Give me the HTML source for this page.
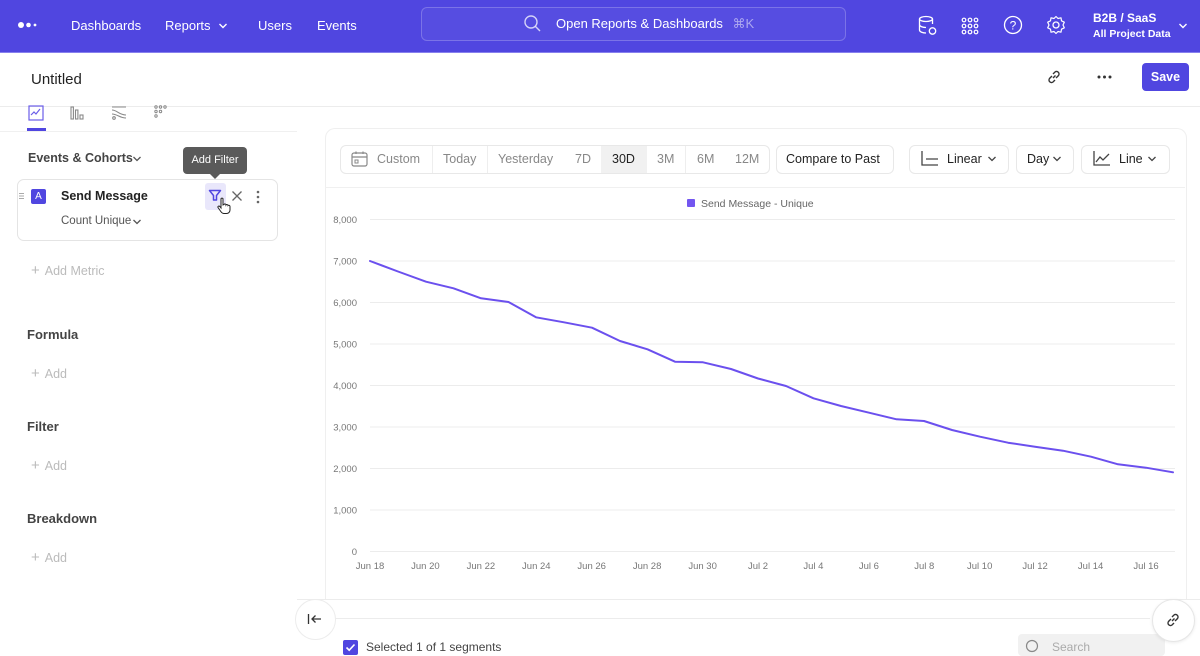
<!DOCTYPE html>
<html>
<head>
<meta charset="utf-8">
<style>
  html,body{margin:0;padding:0;}
  body{width:1200px;height:651px;overflow:hidden;position:relative;background:#fff;font-family:"Liberation Sans",Arial,sans-serif;color:#222;}
  .a{position:absolute;white-space:nowrap;}
  .nav{position:absolute;left:0;top:0;width:1200px;height:52px;background:#5046e0;border-bottom:1px solid #8780ee;}
  .nav .t{position:absolute;color:#fff;font-size:13px;top:18px;}
  .search{position:absolute;left:421px;top:7px;width:423px;height:32px;border:1px solid rgba(255,255,255,0.22);border-radius:6px;background:rgba(255,255,255,0.04);}
  .sec{color:#444;font-size:13px;font-weight:bold;}
  .add{color:#bbb;font-size:12.5px;}
  .tb{position:absolute;top:145px;height:27px;border:1px solid #e8e8e8;border-radius:6px;background:#fff;}
  .tbt{position:absolute;top:152px;font-size:12.5px;color:#888;}
</style>
</head>
<body>

<!-- top nav -->
<div class="nav">
  <svg class="a" style="left:17px;top:21px" width="22" height="8"><circle cx="4" cy="4" r="3" fill="#fff"/><circle cx="11.5" cy="4" r="2.3" fill="#fff"/><circle cx="18" cy="4" r="1.4" fill="#fff"/></svg>
  <div class="t" style="left:71px">Dashboards</div>
  <div class="t" style="left:165px">Reports</div>
  <svg class="a" style="left:218px;top:22px" width="10" height="8"><path d="M1.5 2 L5 5.5 L8.5 2" stroke="#fff" stroke-width="1.4" fill="none"/></svg>
  <div class="t" style="left:258px">Users</div>
  <div class="t" style="left:317px">Events</div>
  <div class="search"></div>
  <svg class="a" style="left:523px;top:14px" width="20" height="20"><circle cx="8" cy="8" r="6" stroke="rgba(255,255,255,0.75)" stroke-width="1.4" fill="none"/><path d="M12.5 12.5 L17 17" stroke="rgba(255,255,255,0.75)" stroke-width="1.4"/></svg>
  <div class="t" style="left:556px;top:16px">Open Reports &amp; Dashboards <span style="color:rgba(255,255,255,0.5);margin-left:6px">⌘K</span></div>
  <svg class="a" style="left:918px;top:15px" width="20" height="22"><ellipse cx="8" cy="4" rx="6.5" ry="2.5" stroke="#fff" stroke-width="1.3" fill="none"/><path d="M1.5 4 V15 C1.5 17 5 18 8 18 M14.5 4 V9 M1.5 9.5 C1.5 11.5 5 12.5 8 12.5" stroke="#fff" stroke-width="1.3" fill="none"/><circle cx="14.5" cy="16" r="3.2" stroke="#fff" stroke-width="1.3" fill="none"/></svg>
  <svg class="a" style="left:961px;top:17px" width="18" height="18"><g fill="none" stroke="#fff" stroke-width="1.2"><circle cx="3" cy="3" r="1.8"/><circle cx="9" cy="3" r="1.8"/><circle cx="15" cy="3" r="1.8"/><circle cx="3" cy="9" r="1.8"/><circle cx="9" cy="9" r="1.8"/><circle cx="15" cy="9" r="1.8"/><circle cx="3" cy="15" r="1.8"/><circle cx="9" cy="15" r="1.8"/><circle cx="15" cy="15" r="1.8"/></g></svg>
  <svg class="a" style="left:1003px;top:15px" width="20" height="20"><circle cx="10" cy="10" r="8.5" stroke="#fff" stroke-width="1.3" fill="none"/><text x="10" y="14.5" text-anchor="middle" font-size="12" fill="#fff" font-family="Liberation Sans">?</text></svg>
  <svg class="a" style="left:1046px;top:15px" width="20" height="20"><circle cx="10" cy="10" r="3" stroke="#fff" stroke-width="1.3" fill="none"/><path d="M10 1.5 L12 3.5 L15 2.8 L15.5 5.8 L18.3 7.2 L17 10 L18.3 12.8 L15.5 14.2 L15 17.2 L12 16.5 L10 18.5 L8 16.5 L5 17.2 L4.5 14.2 L1.7 12.8 L3 10 L1.7 7.2 L4.5 5.8 L5 2.8 L8 3.5 Z" stroke="#fff" stroke-width="1.2" fill="none" stroke-linejoin="round"/></svg>
  <div class="a" style="left:1093px;top:11px;color:#fff;font-size:12px;font-weight:bold">B2B / SaaS</div>
  <div class="a" style="left:1093px;top:28px;color:#fff;font-size:10.5px;font-weight:bold">All Project Data</div>
  <svg class="a" style="left:1178px;top:22px" width="10" height="8"><path d="M1.5 2 L5 5.5 L8.5 2" stroke="#fff" stroke-width="1.4" fill="none"/></svg>
</div>

<!-- title row -->
<div class="a" style="left:31px;top:71px;font-size:15px;color:#222">Untitled</div>
<svg class="a" style="left:1046px;top:69px" width="16" height="16"><g stroke="#333" stroke-width="1.4" fill="none"><path d="M7 9 L9.5 6.5"/><path d="M6 7 L3.5 9.5 A2.5 2.5 0 0 0 7 13 L9 11"/><path d="M10 9 L12.5 6.5 A2.5 2.5 0 0 0 9 3 L7 5"/></g></svg>
<svg class="a" style="left:1097px;top:75px" width="16" height="4"><circle cx="2" cy="2" r="1.5" fill="#333"/><circle cx="7.5" cy="2" r="1.5" fill="#333"/><circle cx="13" cy="2" r="1.5" fill="#333"/></svg>
<div class="a" style="left:1142px;top:63px;width:47px;height:28px;background:#5046e0;border-radius:4px;color:#fff;font-size:12.5px;font-weight:bold;text-align:center;line-height:28px">Save</div>
<div class="a" style="left:0;top:106px;width:1200px;height:1px;background:#ececec"></div>

<!-- tab icons -->
<svg class="a" style="left:28px;top:105px" width="16" height="16"><rect x="1" y="1" width="14" height="14" fill="none" stroke="#6b5ee8" stroke-width="1.2"/><path d="M3 10 L6 7 L8 9 L12 4" stroke="#6b5ee8" stroke-width="1.2" fill="none"/></svg>
<div class="a" style="left:27px;top:128px;width:19px;height:3px;background:#5046e0"></div>
<svg class="a" style="left:70px;top:106px" width="16" height="14"><g fill="none" stroke="#888" stroke-width="1.1"><rect x="1" y="1" width="2.4" height="12"/><rect x="5.5" y="4" width="2.4" height="9"/><rect x="10" y="9" width="3" height="4"/></g></svg>
<svg class="a" style="left:111px;top:106px" width="16" height="14"><g fill="none" stroke="#888" stroke-width="1.1"><path d="M1 1 H15 M1 4 C6 4 8 9 15 9 M1 8 C6 8 9 12 15 12"/><circle cx="3" cy="12" r="1.3"/></g></svg>
<svg class="a" style="left:153px;top:105px" width="16" height="14"><g fill="none" stroke="#888" stroke-width="1"><circle cx="3" cy="2" r="1.2"/><circle cx="7.5" cy="2" r="1.2"/><circle cx="12" cy="2" r="1.2"/><circle cx="3" cy="6.5" r="1.2"/><circle cx="7.5" cy="6.5" r="1.2"/><circle cx="3" cy="11" r="1.2"/></g></svg>
<div class="a" style="left:0;top:131px;width:297px;height:1px;background:#f0f0f0"></div>

<!-- left panel -->
<div class="a" style="left:28px;top:151px;font-size:12.5px;color:#444;font-weight:bold">Events &amp; Cohorts</div>
<svg class="a" style="left:132px;top:155px" width="10" height="8"><path d="M1.5 2 L5 5.5 L8.5 2" stroke="#555" stroke-width="1.3" fill="none"/></svg>

<div class="a" style="left:17px;top:179px;width:259px;height:60px;border:1px solid #e4e4e4;border-radius:7px"></div>
<div class="a" style="left:19px;top:193px;width:5px;height:1px;background:#aaa;box-shadow:0 2.5px 0 #aaa,0 5px 0 #aaa"></div>
<div class="a" style="left:31px;top:189px;width:15px;height:15px;background:#5046e0;border-radius:2px;color:#fff;font-size:10px;text-align:center;line-height:15px">A</div>
<div class="a" style="left:61px;top:189px;font-size:12.5px;color:#222;font-weight:bold">Send Message</div>
<div class="a" style="left:61px;top:215px;font-size:11.5px;color:#555">Count Unique</div>
<svg class="a" style="left:132px;top:218px" width="10" height="8"><path d="M1.5 2 L5 5.5 L8.5 2" stroke="#555" stroke-width="1.3" fill="none"/></svg>
<div class="a" style="left:205px;top:183px;width:21px;height:27px;background:#e9e7fb;border-radius:3px"></div>
<svg class="a" style="left:208px;top:189px" width="14" height="13"><path d="M1.5 1.5 H12.5 L8.5 6.5 V11 L5.5 11 V6.5 Z" fill="none" stroke="#5046e0" stroke-width="1.5" stroke-linejoin="round"/></svg>
<svg class="a" style="left:217px;top:197px" width="14" height="18"><path d="M4 2 C4 0.8 6 0.8 6 2 V8 L7 7.5 C7.5 6.5 9 6.8 9 8 C9.5 7.2 11 7.5 11 8.5 C11.5 8 13 8.3 13 9.5 V13 C13 15 11.5 16.5 9.5 16.5 H7 C5.5 16.5 4.5 15.5 3.8 14.5 L1 10.5 C0.5 9.5 1.8 8.5 2.8 9.5 L4 11 Z" fill="#fff" stroke="#222" stroke-width="1"/></svg>
<svg class="a" style="left:231px;top:190px" width="12" height="12"><path d="M1.5 1.5 L10.5 10.5 M10.5 1.5 L1.5 10.5" stroke="#666" stroke-width="1.3"/></svg>
<svg class="a" style="left:256px;top:190px" width="4" height="14"><circle cx="2" cy="2" r="1.3" fill="#666"/><circle cx="2" cy="7" r="1.3" fill="#666"/><circle cx="2" cy="12" r="1.3" fill="#666"/></svg>
<div class="a" style="left:183px;top:147px;width:64px;height:27px;background:#5a5a5a;border-radius:4px;color:#fff;font-size:11px;text-align:center;line-height:27px">Add Filter</div>
<div class="a" style="left:210px;top:174px;width:0;height:0;border-left:5px solid transparent;border-right:5px solid transparent;border-top:5px solid #5a5a5a"></div>

<div class="a add" style="left:31px;top:262px"><span style="font-size:15px;margin-right:5px">+</span>Add Metric</div>
<div class="a sec" style="left:27px;top:327px">Formula</div>
<div class="a add" style="left:31px;top:365px"><span style="font-size:15px;margin-right:5px">+</span>Add</div>
<div class="a sec" style="left:27px;top:419px">Filter</div>
<div class="a add" style="left:31px;top:457px"><span style="font-size:15px;margin-right:5px">+</span>Add</div>
<div class="a sec" style="left:27px;top:511px">Breakdown</div>
<div class="a add" style="left:31px;top:549px"><span style="font-size:15px;margin-right:5px">+</span>Add</div>

<!-- chart card -->
<div class="a" style="left:325px;top:128px;width:860px;height:471px;border:1px solid #efefef;border-bottom:none;border-radius:10px 10px 0 0"></div>
<div class="a" style="left:325px;top:187px;width:860px;height:1px;background:#f0f0f0"></div>

<!-- toolbar -->
<div class="tb" style="left:340px;width:428px"></div>
<div class="a" style="left:601px;top:146px;width:46px;height:27px;background:#f1f1f1"></div>
<div class="a" style="left:432px;top:146px;width:1px;height:27px;background:#eee"></div>
<div class="a" style="left:487px;top:146px;width:1px;height:27px;background:#eee"></div>
<div class="a" style="left:685px;top:146px;width:1px;height:27px;background:#eee"></div>
<svg class="a" style="left:351px;top:151px" width="17" height="16"><rect x="1" y="2" width="15" height="13" rx="2" fill="none" stroke="#888" stroke-width="1.2"/><path d="M1 6 H16 M5 0.5 V3 M12 0.5 V3" stroke="#888" stroke-width="1.2"/><rect x="4" y="9" width="3" height="3" fill="none" stroke="#888" stroke-width="1"/></svg>
<div class="tbt" style="left:377px">Custom</div>
<div class="tbt" style="left:443px">Today</div>
<div class="tbt" style="left:498px">Yesterday</div>
<div class="tbt" style="left:575px">7D</div>
<div class="tbt" style="left:612px;color:#222">30D</div>
<div class="tbt" style="left:657px">3M</div>
<div class="tbt" style="left:697px">6M</div>
<div class="tbt" style="left:735px">12M</div>

<div class="tb" style="left:776px;width:116px"></div>
<div class="tbt" style="left:786px;color:#222">Compare to Past</div>

<div class="tb" style="left:909px;width:98px"></div>
<svg class="a" style="left:921px;top:151px" width="18" height="15"><path d="M1 0 V14 H17 M5 8 H17" stroke="#444" stroke-width="1.3" fill="none"/></svg>
<div class="tbt" style="left:947px;color:#222">Linear</div>
<svg class="a" style="left:987px;top:155px" width="10" height="8"><path d="M1.5 2 L5 5.5 L8.5 2" stroke="#444" stroke-width="1.3" fill="none"/></svg>

<div class="tb" style="left:1016px;width:56px"></div>
<div class="tbt" style="left:1027px;color:#222">Day</div>
<svg class="a" style="left:1052px;top:155px" width="10" height="8"><path d="M1.5 2 L5 5.5 L8.5 2" stroke="#444" stroke-width="1.3" fill="none"/></svg>

<div class="tb" style="left:1081px;width:87px"></div>
<svg class="a" style="left:1093px;top:151px" width="18" height="15"><path d="M1 0 V14 H17" stroke="#444" stroke-width="1.3" fill="none"/><path d="M3 11 L7 6 L10 9 L16 3" stroke="#444" stroke-width="1.3" fill="none"/></svg>
<div class="tbt" style="left:1119px;color:#222">Line</div>
<svg class="a" style="left:1147px;top:155px" width="10" height="8"><path d="M1.5 2 L5 5.5 L8.5 2" stroke="#444" stroke-width="1.3" fill="none"/></svg>

<!-- chart -->
<svg class="a" style="left:0;top:0" width="1200" height="651">
  <rect x="687" y="199" width="8" height="8" rx="1" fill="#7356f0"/>
  <text x="701" y="207" font-size="10.5" fill="#666" font-family="Liberation Sans">Send Message - Unique</text>
  <g stroke="#ececec" stroke-width="1">
    <line x1="370" y1="219.5" x2="1175" y2="219.5"/>
    <line x1="370" y1="261" x2="1175" y2="261"/>
    <line x1="370" y1="302.5" x2="1175" y2="302.5"/>
    <line x1="370" y1="344" x2="1175" y2="344"/>
    <line x1="370" y1="385.5" x2="1175" y2="385.5"/>
    <line x1="370" y1="427" x2="1175" y2="427"/>
    <line x1="370" y1="468.5" x2="1175" y2="468.5"/>
    <line x1="370" y1="510" x2="1175" y2="510"/>
    <line x1="370" y1="551.5" x2="1175" y2="551.5"/>
  </g>
  <g font-size="9.5" fill="#777" font-family="Liberation Sans" text-anchor="end">
    <text x="357" y="223">8,000</text>
    <text x="357" y="264.5">7,000</text>
    <text x="357" y="306">6,000</text>
    <text x="357" y="347.5">5,000</text>
    <text x="357" y="389">4,000</text>
    <text x="357" y="430.5">3,000</text>
    <text x="357" y="472">2,000</text>
    <text x="357" y="513.5">1,000</text>
    <text x="357" y="555">0</text>
  </g>
  <g font-size="9.5" fill="#777" font-family="Liberation Sans" text-anchor="middle">
    <text x="370" y="569">Jun 18</text>
    <text x="425.4" y="569">Jun 20</text>
    <text x="480.9" y="569">Jun 22</text>
    <text x="536.3" y="569">Jun 24</text>
    <text x="591.7" y="569">Jun 26</text>
    <text x="647.1" y="569">Jun 28</text>
    <text x="702.6" y="569">Jun 30</text>
    <text x="758" y="569">Jul 2</text>
    <text x="813.4" y="569">Jul 4</text>
    <text x="868.9" y="569">Jul 6</text>
    <text x="924.3" y="569">Jul 8</text>
    <text x="979.7" y="569">Jul 10</text>
    <text x="1035.1" y="569">Jul 12</text>
    <text x="1090.6" y="569">Jul 14</text>
    <text x="1146" y="569">Jul 16</text>
  </g>
  <polyline fill="none" stroke="#6b50ee" stroke-width="2" stroke-linejoin="round" stroke-linecap="round"
    points="370,261 398,271.5 426,281.7 453.5,288.3 481,298.3 508.5,302 536,317.3 564,322.3 592,327.7 620,341 647.5,349.3 675,361.7 703,362.3 731,369 758,378.5 786,386 813.5,398.3 841,406 869,412.7 896.5,419.3 924,421 952,430 980,436.7 1008,442.7 1035,446.7 1063,450.7 1091,456.7 1118,464.3 1146,467.7 1173,472.3"/>
</svg>

<!-- bottom area -->
<div class="a" style="left:297px;top:599px;width:903px;height:1px;background:#ececec"></div>
<div class="a" style="left:335px;top:618px;width:815px;height:1px;background:#ececec"></div>
<div class="a" style="left:295px;top:599px;width:39px;height:39px;border:1px solid #ececec;border-radius:50%;background:#fff"></div>
<svg class="a" style="left:307px;top:613px" width="16" height="12"><path d="M1.5 1 V11 M14 6 H5 M8.5 2.5 L5 6 L8.5 9.5" stroke="#333" stroke-width="1.3" fill="none"/></svg>
<div class="a" style="left:343px;top:640px;width:15px;height:15px;background:#5046e0;border-radius:2px"></div>
<svg class="a" style="left:345px;top:643px" width="11" height="9"><path d="M1.5 4.5 L4.2 7.2 L9.5 1.5" stroke="#fff" stroke-width="1.6" fill="none"/></svg>
<div class="a" style="left:366px;top:640px;font-size:12px;color:#444">Selected 1 of 1 segments</div>
<div class="a" style="left:1018px;top:634px;width:147px;height:22px;background:#f1f1f1;border-radius:4px"></div>
<svg class="a" style="left:1025px;top:639px" width="16" height="14"><circle cx="7" cy="7" r="5.5" stroke="#888" stroke-width="1.2" fill="none"/></svg>
<div class="a" style="left:1052px;top:640px;font-size:12px;color:#aaa">Search</div>
<div class="a" style="left:1152px;top:599px;width:41px;height:41px;border:1px solid #e6e6e6;border-radius:50%;background:#fff;box-shadow:0 1px 3px rgba(0,0,0,0.08)"></div>
<svg class="a" style="left:1165px;top:612px" width="16" height="16"><g stroke="#333" stroke-width="1.4" fill="none"><path d="M7 9 L9.5 6.5"/><path d="M6 7 L3.5 9.5 A2.5 2.5 0 0 0 7 13 L9 11"/><path d="M10 9 L12.5 6.5 A2.5 2.5 0 0 0 9 3 L7 5"/></g></svg>

</body>
</html>
